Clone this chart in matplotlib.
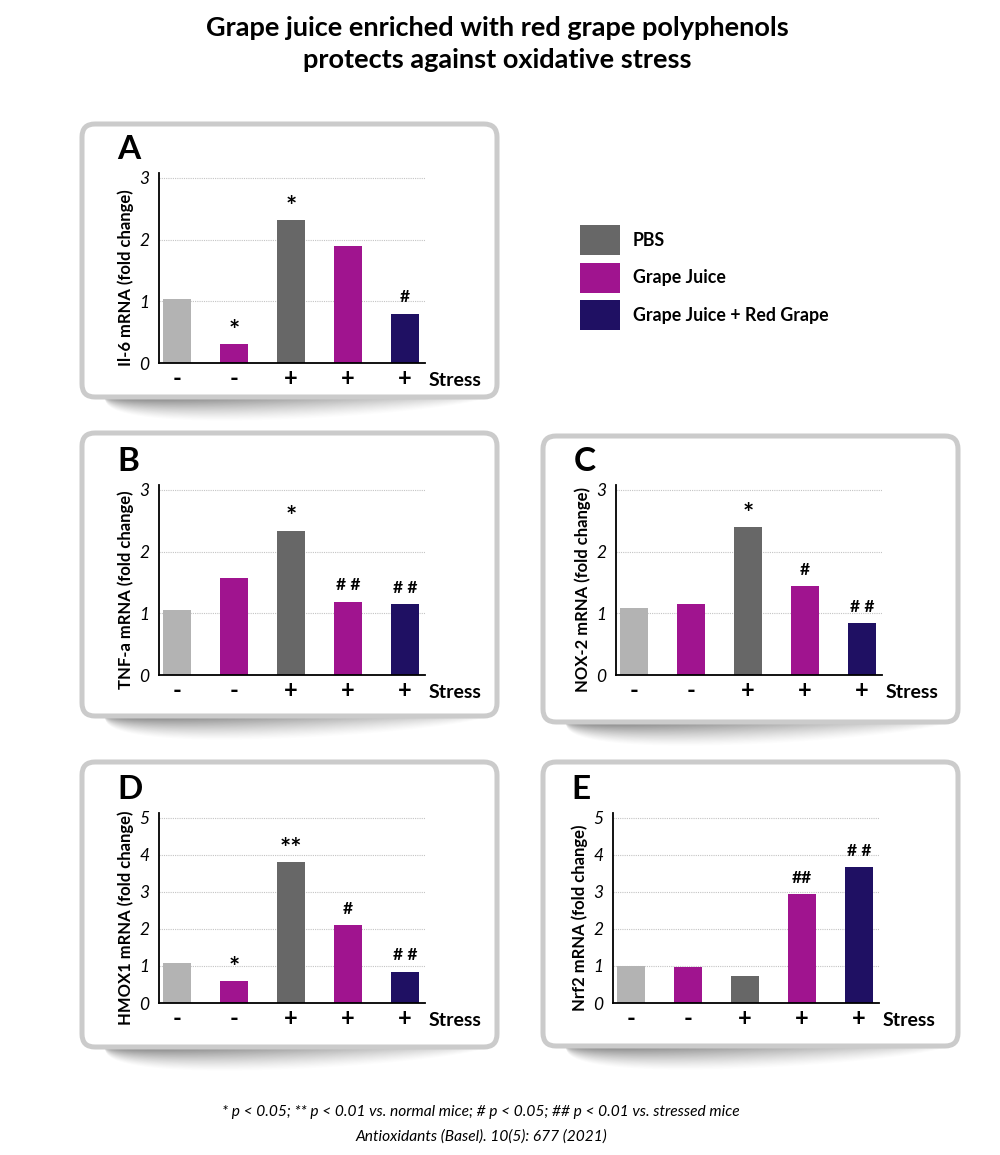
import numpy as np
import matplotlib
matplotlib.use('Agg')
import matplotlib.pyplot as plt
from matplotlib.patches import FancyBboxPatch, Rectangle

plt.rcParams['font.family'] = ['Lato', 'DejaVu Sans']

# ---- data ----
title_lines = ['Grape juice enriched with red grape polyphenols',
               'protects against oxidative stress']
stress = ['-', '-', '+', '+', '+']
bar_colors = ['#b3b3b3', '#a0148f', '#676767', '#a0148f', '#1f1063']
legend_labels = ['PBS', 'Grape Juice', 'Grape Juice + Red Grape']
legend_colors = ['#676767', '#a0148f', '#1f1063']

panel_letters = ['A', 'B', 'C', 'D', 'E']
y_labels = ['Il-6 mRNA (fold change)', 'TNF-a mRNA (fold change)',
            'NOX-2 mRNA (fold change)', 'HMOX1 mRNA (fold change)',
            'Nrf2 mRNA (fold change)']
y_max = [3, 3, 3, 5, 5]

il6 = [1.03, 0.30, 2.32, 1.89, 0.80]
tnfa = [1.06, 1.57, 2.34, 1.19, 1.15]
nox2 = [1.09, 1.15, 2.40, 1.44, 0.84]
hmox1 = [1.08, 0.59, 3.81, 2.11, 0.85]
nrf2 = [1.00, 0.98, 0.74, 2.95, 3.67]

sig_il6 = ['', '*', '*', '', '#']
sig_tnfa = ['', '', '*', '# #', '# #']
sig_nox2 = ['', '', '*', '#', '# #']
sig_hmox1 = ['', '*', '**', '#', '# #']
sig_nrf2 = ['', '', '', '##', '# #']

values = [il6, tnfa, nox2, hmox1, nrf2]
signif = [sig_il6, sig_tnfa, sig_nox2, sig_hmox1, sig_nrf2]

footnote = ['* p < 0.05; ** p < 0.01 vs. normal mice; # p < 0.05; ## p < 0.01 vs. stressed mice',
            'Antioxidants (Basel). 10(5): 677 (2021)']

# ---- layout (pixels) ----
W, H = 1000, 1155
boxes = [(82, 124, 497, 397), (82, 433, 497, 716), (543, 436, 958, 722),
         (82, 762, 497, 1047), (543, 762, 958, 1046)]
origins = [(159, 363), (159, 675), (616, 675), (159, 1003), (613, 1003)]
AX_W, AX_H = 266, 190

fig = plt.figure(figsize=(10, 11.55), dpi=100)
bg = fig.add_axes([0, 0, 1, 1])
bg.axis('off')


def shadow(x0, x1, ytop, h=34):
    w = int(x1 - x0)
    X, Y = np.meshgrid(np.linspace(0, 1, w), np.linspace(0, 1, h))
    thick = np.sin(np.pi * X ** 0.6) ** 0.5 * 0.85
    t = np.clip(1 - Y / np.maximum(thick, 1e-3), 0, 1)
    alpha = 0.85 * t ** 1.3 * (1 - 0.7 * X)
    img = np.zeros((h, w, 4))
    img[..., :3] = 0.2
    img[..., 3] = alpha
    bg.imshow(img, extent=(x0, x1, ytop + h, ytop), aspect='auto',
              interpolation='bilinear', zorder=0)


for (x0, y0, x1, y1) in boxes:
    shadow(x0 + 22, x1 - 5, y1 - 4)
    bg.add_patch(FancyBboxPatch((x0, y0), x1 - x0, y1 - y0,
                                boxstyle='round,pad=0,rounding_size=13',
                                fc='white', ec='#cbcbcb', lw=3.6, zorder=2))

bg.set_xlim(0, W)
bg.set_ylim(H, 0)

# title
bg.text(497, 28, title_lines[0], ha='center', va='center', fontsize=19.5, weight='bold')
bg.text(497, 60, title_lines[1], ha='center', va='center', fontsize=19.5, weight='bold')

# legend
for i, (lab, col) in enumerate(zip(legend_labels, legend_colors)):
    yc = 240 + i * 37.5
    bg.add_patch(Rectangle((580, yc - 15), 40, 30, fc=col, ec='none', zorder=3))
    bg.text(633, yc, lab, ha='left', va='center', fontsize=12.8, weight='bold')

# footnote
bg.text(481, 1112, footnote[0], ha='center', va='center', fontsize=11.2, style='italic')
bg.text(481, 1137, footnote[1], ha='center', va='center', fontsize=11.2, style='italic')

x = np.arange(5)
for k in range(5):
    ox, oy = origins[k]
    ax = fig.add_axes([ox / W, 1 - oy / H, AX_W / W, AX_H / H])
    ax.set_facecolor('none')
    ym = y_max[k]
    ax.bar(x, values[k], width=0.49, color=bar_colors, zorder=3)
    ax.set_xlim(-0.316, 4.35)
    ax.set_ylim(0, ym * 1.027)
    ax.set_yticks(range(ym + 1))
    ax.set_yticklabels([str(v) for v in range(ym + 1)], fontsize=12.5, style='italic')
    ax.set_xticks(x)
    ax.set_xticklabels(stress, fontsize=17, weight='bold')
    ax.tick_params(length=0)
    ax.tick_params(axis='y', pad=7)
    ax.tick_params(axis='x', pad=3)
    ax.grid(axis='y', color='#c4c4c4', lw=0.8, ls=(0, (1, 1)), zorder=1)
    for s in ['top', 'right']:
        ax.spines[s].set_visible(False)
    for s in ['left', 'bottom']:
        ax.spines[s].set_linewidth(1.3)
        ax.spines[s].set_zorder(4)
    ax.set_ylabel(y_labels[k], fontsize=12, weight='bold')
    ax.yaxis.set_label_coords(-0.095, 0.45)
    ax.text(1.015, -0.09, 'Stress', transform=ax.transAxes, ha='left', va='center',
            fontsize=14, weight='bold')
    for i, s in enumerate(signif[k]):
        if s:
            big = s.startswith('*')
            ax.annotate(s, (x[i], values[k][i]), xytext=(0, 1 if big else 6),
                        textcoords='offset points', ha='center', va='bottom',
                        fontsize=19 if big else 12.5, weight='bold')
    bg.text(ox - 42, oy - AX_H - 14, panel_letters[k], fontsize=24, weight='bold',
            ha='left', va='baseline', zorder=5)

fig.savefig('out.png', dpi=100)
